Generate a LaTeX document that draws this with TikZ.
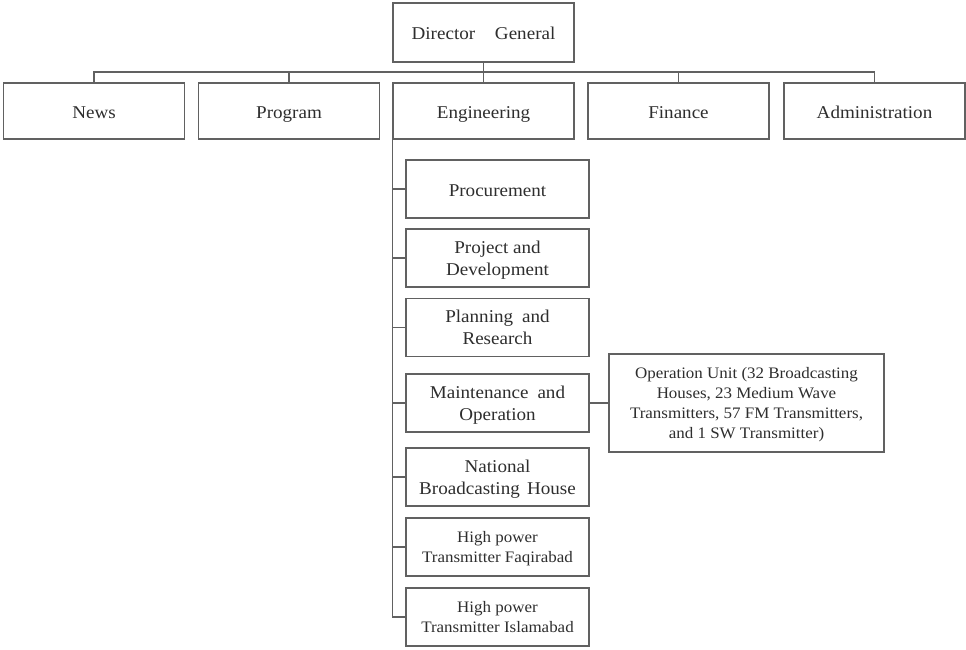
\documentclass[tikz,border=0pt]{standalone}
\usepackage{fontspec}
\setmainfont[FakeStretch=1.06]{Liberation Serif}
\begin{document}
\begin{tikzpicture}[x=1pt,y=-1pt,
  line width=1.1pt,
  box/.style={draw=black!62, fill=white, inner sep=2pt, align=center,
    text=black!82, font=\fontsize{18}{22}\selectfont},
  topbox/.style={box, minimum width=181pt, minimum height=56pt,
    text height=16pt, text depth=0pt},
  subbox/.style={box, minimum width=183pt, minimum height=58pt, text depth=0pt},
  smalltext/.style={font=\fontsize{16}{20}\selectfont},
  link/.style={draw=black!62}]
\useasboundingbox (0,0) rectangle (966,650);

% head of the organisation
\node[box, minimum width=181pt, minimum height=59pt, text height=15pt, text depth=0pt]
  (dg) at (483.5,32.5) {Director\hspace{1.1em}General};

% departments
\node[topbox] (news)    at (94,111)    {News};
\node[topbox] (program) at (289,111)   {Program};
\node[topbox] (eng)     at (483.5,111) {Engineering};
\node[topbox] (finance) at (678.5,111) {Finance};
\node[topbox] (admin)   at (874.5,111) {Administration};

% engineering sections
\node[subbox, text height=14pt] (proc) at (497.5,189) {Procurement};
\node[subbox] (proj)  at (497.5,258)   {Project and\\Development};
\node[subbox] (plan)  at (497.5,327.5) {Planning\hspace{0.5em}and\\Research};
\node[subbox] (maint) at (497.5,403)   {Maintenance\hspace{0.5em}and\\Operation};
\node[subbox] (nbh)   at (497.5,477)   {National\\Broadcasting\hspace{0.4em}House};
\node[subbox, smalltext] (hpf) at (497.5,547) {High power\\Transmitter Faqirabad};
\node[subbox, smalltext] (hpi) at (497.5,617) {High power\\Transmitter Islamabad};

% operation unit
\node[box, smalltext, minimum width=275pt, minimum height=98pt, text depth=0pt] (ops) at (746.5,403)
  {Operation Unit (32 Broadcasting\\Houses, 23 Medium Wave\\Transmitters, 57 FM Transmitters,\\and 1 SW Transmitter)};

% connectors from the head to the departments
\coordinate (bar) at (483.5,72);
\draw[link] (dg.south) -- (eng.north);
\draw[link] (news.north) |- (bar) -| (admin.north);
\draw[link] (program.north) -- (program.north |- bar);
\draw[link] (finance.north) -- (finance.north |- bar);

% engineering spine and branches
\draw[link] (eng.south west) -- (eng.south west |- hpi.west);
\foreach \s in {proc,proj,plan,maint,nbh,hpf,hpi}
  \draw[link] (\s.west) -- (\s.west -| eng.south west);
\draw[link] (maint.east) -- (ops.west);
\end{tikzpicture}
\end{document}
